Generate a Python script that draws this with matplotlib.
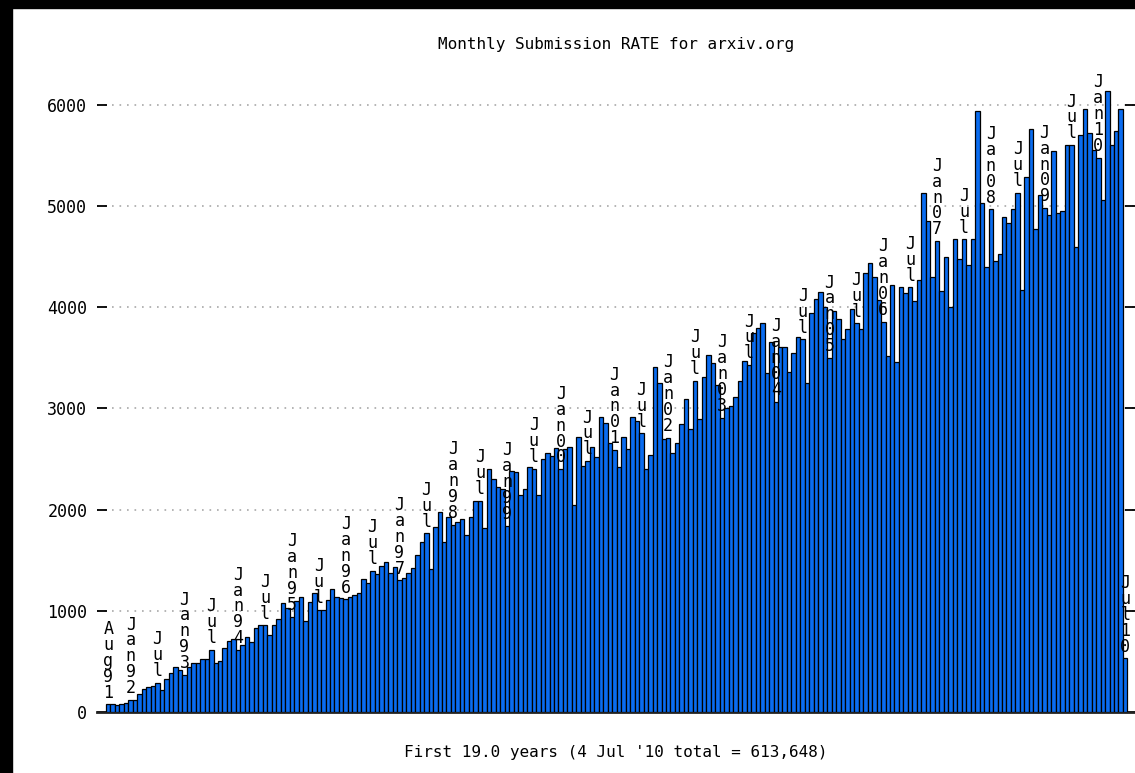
import matplotlib
matplotlib.use("Agg")
import matplotlib.pyplot as plt
from matplotlib.patches import Rectangle

# monthly submissions, Aug 1991 .. Jul 2010
y1991 = [76, 79, 66, 79, 86]
y1992 = [119, 119, 178, 224, 244, 257, 290, 217, 323, 382, 441, 415]
y1993 = [366, 441, 487, 487, 527, 520, 613, 487, 505, 636, 705, 718]
y1994 = [613, 662, 738, 695, 827, 856, 856, 761, 860, 916, 1074, 1025]
y1995 = [942, 1100, 1133, 899, 1090, 1173, 1008, 1008, 1107, 1212, 1140, 1123]
y1996 = [1113, 1140, 1156, 1179, 1311, 1278, 1395, 1364, 1446, 1486, 1370, 1430]
y1997 = [1300, 1321, 1377, 1426, 1551, 1683, 1766, 1410, 1825, 1980, 1683, 1927]
y1998 = [1850, 1880, 1910, 1750, 1930, 2088, 2090, 1815, 2398, 2299, 2220, 2200]
y1999 = [1840, 2385, 2375, 2144, 2200, 2424, 2405, 2144, 2497, 2556, 2530, 2605]
y2000 = [2400, 2600, 2620, 2050, 2721, 2431, 2480, 2615, 2516, 2918, 2859, 2655]
y2001 = [2589, 2424, 2714, 2596, 2918, 2879, 2754, 2400, 2540, 3412, 3248, 2695]
y2002 = [2711, 2562, 2661, 2850, 3093, 2800, 3274, 2900, 3307, 3528, 3445, 3231]
y2003 = [2910, 3000, 3020, 3116, 3271, 3471, 3429, 3742, 3800, 3841, 3347, 3659]
y2004 = [3066, 3604, 3610, 3363, 3550, 3702, 3683, 3250, 3939, 4078, 4153, 4005]
y2005 = [3500, 3966, 3880, 3683, 3782, 3979, 3841, 3782, 4335, 4434, 4302, 4071]
y2006 = [3857, 3518, 4219, 3462, 4203, 4137, 4196, 4065, 4275, 5132, 4852, 4302]
y2007 = [4654, 4163, 4493, 4005, 4671, 4473, 4671, 4417, 4671, 5942, 5033, 4394]
y2008 = [4967, 4460, 4526, 4894, 4835, 4967, 5132, 4170, 5290, 5767, 4770, 5109]
y2009 = [4980, 4911, 5547, 4928, 4951, 5603, 5603, 4592, 5702, 5965, 5725, 5553]
y2010 = [5480, 5060, 6136, 5603, 5740, 5965, 530]

counts = (y1991 + y1992 + y1993 + y1994 + y1995 + y1996 + y1997 + y1998 + y1999
          + y2000 + y2001 + y2002 + y2003 + y2004 + y2005 + y2006 + y2007
          + y2008 + y2009 + y2010)

month_names = ['Jan', 'Feb', 'Mar', 'Apr', 'May', 'Jun',
               'Jul', 'Aug', 'Sep', 'Oct', 'Nov', 'Dec']
start_year, start_month = 1991, 8

title = 'Monthly Submission RATE for arxiv.org'
xlabel = "First 19.0 years (4 Jul '10 total = 613,648)"
yticks = [0, 1000, 2000, 3000, 4000, 5000, 6000]

W, H = 1135, 773
fig = plt.figure(figsize=(W / 100, H / 100), dpi=100)
fig.patch.set_facecolor('white')

# axes box in pixels: x 97..1135, y 54..712 (0..6500)
ax = fig.add_axes([97 / W, (H - 712) / H, 1 - 97 / W, 657.6 / H])
mono = 'DejaVu Sans Mono'

xs = list(range(len(counts)))
ax.bar(xs, counts, width=1.0, color='#0a6cf0', edgecolor='black',
       linewidth=0.9, zorder=3)

ax.set_xlim(-0.5 - 9 / 4.48, -0.5 + (1135 - 106) / 4.48)
ax.set_ylim(0, 6500)

# month labels drawn one letter per line on top of the bars
for i, v in enumerate(counts):
    m = (start_month - 1 + i) % 12
    yr = start_year + (start_month - 1 + i) // 12
    if i == 0:
        lab = month_names[m] + '%02d' % (yr % 100)
    elif i == len(counts) - 1:
        lab = month_names[m] + '%02d' % (yr % 100)
    elif m == 0:
        lab = 'Jan%02d' % (yr % 100)
    elif m == 6:
        lab = 'Jul'
    else:
        continue
    ax.annotate('\n'.join(lab), (i, v), xytext=(0, 2),
                textcoords='offset points', ha='center', va='bottom',
                fontsize=12, family=mono, linespacing=0.85, zorder=4)

ax.set_yticks(yticks)
ax.set_yticklabels([str(t) for t in yticks], family=mono, fontsize=12)
ax.set_xticks([])
ax.tick_params(axis='y', direction='in', length=7.5, width=1.3,
               left=True, right=True, pad=7, colors='black')
ax.grid(axis='y', linestyle=(0, (1, 3.5)), color='#a8a8a8', linewidth=1.2,
        zorder=1)
for s in ['left', 'top', 'right']:
    ax.spines[s].set_visible(False)
ax.spines['bottom'].set_linewidth(2)
ax.spines['bottom'].set_color('#222222')
ax.set_facecolor('white')

fig.text(616 / W, 1 - 45 / H, title, ha='center', va='center',
         family=mono, fontsize=11.5)
fig.text(616 / W, 1 - 753 / H, xlabel, ha='center', va='center',
         family=mono, fontsize=11.5)

# black frame strips at the top and left edge of the screenshot
fig.add_artist(Rectangle((0, 1 - 8 / H), 1, 8 / H, transform=fig.transFigure,
                         color='black', zorder=10))
fig.add_artist(Rectangle((0, 0), 12 / W, 1, transform=fig.transFigure,
                         color='black', zorder=10))

fig.savefig('out.png', dpi=100)
